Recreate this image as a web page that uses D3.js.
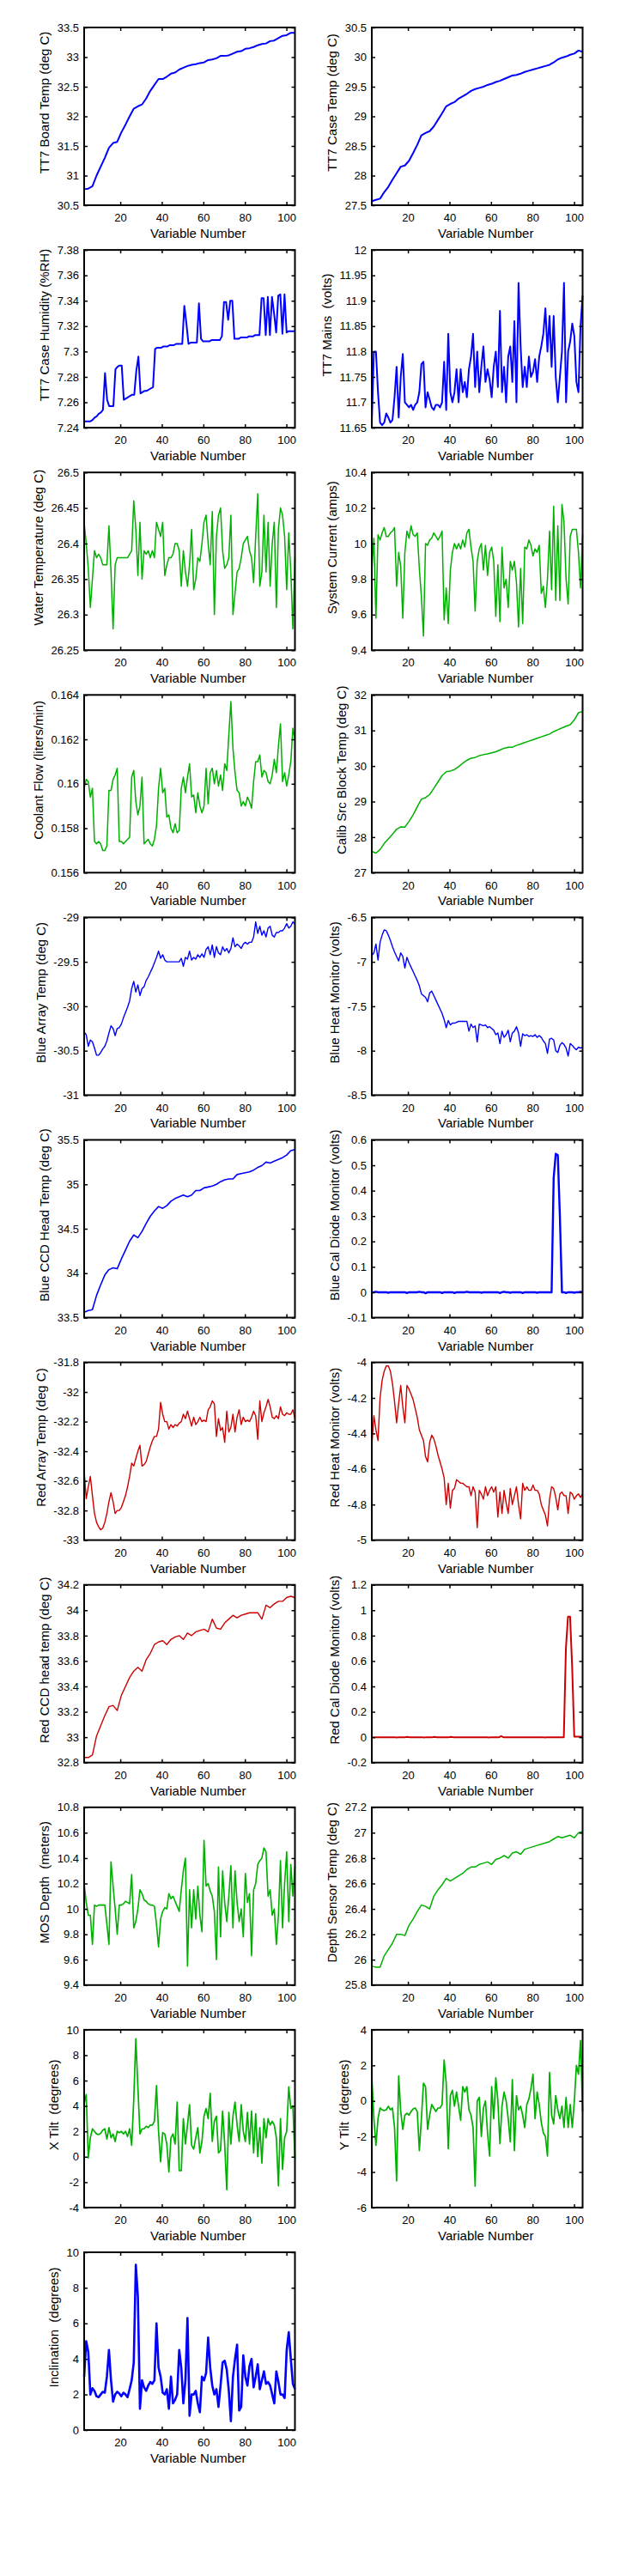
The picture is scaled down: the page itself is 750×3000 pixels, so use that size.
<!DOCTYPE html>
<html>
<head>
<meta charset="utf-8">
<script src="https://cdn.jsdelivr.net/npm/d3@7"></script>
<style>
  body { margin: 0; background: #fff; }
  text { font-family: "Liberation Sans", Arial, sans-serif; fill: #000; white-space: pre; }
</style>
</head>
<body>
<script>
// shared x axis (variable number)
var xLimits = [2.6, 104.1];
var xTicks = [20, 40, 60, 80, 100];

// ---- values, evenly spaced over xLimits ----
var boardTemp = [30.77,30.78,30.82,31.0,31.15,31.3,31.47,31.55,31.57,31.73,31.86,32.0,32.13,32.17,32.2,32.3,32.43,32.53,32.63,32.63,32.67,32.72,32.74,32.79,32.82,32.85,32.87,32.88,32.9,32.91,32.95,32.96,32.98,33.02,33.02,33.03,33.06,33.09,33.1,33.14,33.15,33.17,33.2,33.22,33.23,33.27,33.28,33.32,33.36,33.37,33.41,33.41];
var boardTempTicks = [30.5,31,31.5,32,32.5,33,33.5];

var caseTemp = [27.57,27.59,27.61,27.72,27.81,27.93,28.04,28.15,28.17,28.25,28.38,28.52,28.68,28.72,28.75,28.83,28.94,29.05,29.17,29.21,29.24,29.3,29.34,29.38,29.43,29.46,29.48,29.5,29.53,29.55,29.58,29.6,29.63,29.66,29.69,29.7,29.72,29.75,29.77,29.79,29.81,29.83,29.85,29.87,29.91,29.96,29.99,30.01,30.04,30.06,30.11,30.09];
var caseTempTicks = [27.5,28,28.5,29,29.5,30,30.5];

var caseHumidity = [7.245,7.245,7.245,7.245,7.246,7.248,7.249,7.251,7.252,7.254,7.283,7.262,7.257,7.257,7.257,7.286,7.288,7.289,7.289,7.262,7.263,7.264,7.265,7.266,7.266,7.285,7.296,7.267,7.268,7.269,7.269,7.270,7.271,7.272,7.302,7.303,7.303,7.303,7.304,7.304,7.304,7.305,7.305,7.305,7.306,7.306,7.306,7.306,7.336,7.322,7.306,7.307,7.307,7.307,7.307,7.338,7.31,7.308,7.308,7.308,7.308,7.309,7.309,7.309,7.309,7.309,7.312,7.339,7.339,7.325,7.34,7.34,7.31,7.31,7.31,7.311,7.311,7.311,7.311,7.312,7.312,7.312,7.313,7.313,7.313,7.342,7.342,7.313,7.343,7.313,7.343,7.33,7.315,7.344,7.345,7.314,7.345,7.315,7.316,7.316,7.316,7.316];
var caseHumidityTicks = [7.24,7.26,7.28,7.3,7.32,7.34,7.36,7.38];

var mainsVolts = [11.66,11.8,11.8,11.72,11.66,11.655,11.66,11.678,11.67,11.66,11.665,11.71,11.77,11.67,11.75,11.795,11.70,11.695,11.69,11.695,11.685,11.695,11.70,11.72,11.775,11.78,11.69,11.72,11.705,11.69,11.685,11.695,11.695,11.69,11.70,11.78,11.685,11.835,11.72,11.70,11.72,11.765,11.70,11.765,11.72,11.74,11.71,11.765,11.79,11.835,11.73,11.80,11.72,11.77,11.81,11.74,11.765,11.745,11.71,11.77,11.80,11.73,11.88,11.72,11.77,11.70,11.79,11.81,11.74,11.86,11.70,11.935,11.81,11.73,11.77,11.73,11.79,11.75,11.76,11.785,11.74,11.79,11.81,11.835,11.885,11.80,11.87,11.77,11.87,11.75,11.70,11.75,11.80,11.935,11.70,11.80,11.82,11.855,11.83,11.74,11.72,11.85,11.91];
var mainsTicks = [11.65,11.7,11.75,11.8,11.85,11.9,11.95,12];

var waterTemp = [26.43,26.40,26.365,26.31,26.35,26.39,26.38,26.385,26.38,26.37,26.37,26.37,26.425,26.36,26.28,26.37,26.38,26.38,26.38,26.38,26.38,26.38,26.385,26.39,26.46,26.42,26.355,26.43,26.35,26.39,26.385,26.39,26.38,26.39,26.38,26.43,26.42,26.41,26.43,26.355,26.37,26.38,26.38,26.385,26.40,26.40,26.39,26.34,26.39,26.36,26.34,26.37,26.42,26.335,26.35,26.38,26.375,26.40,26.43,26.44,26.40,26.37,26.445,26.30,26.41,26.44,26.45,26.39,26.365,26.37,26.38,26.44,26.30,26.33,26.36,26.365,26.38,26.40,26.405,26.41,26.39,26.38,26.345,26.41,26.47,26.34,26.36,26.44,26.36,26.43,26.34,26.40,26.43,26.31,26.42,26.45,26.44,26.41,26.335,26.415,26.36,26.28,26.38];
var waterTempTicks = [26.25,26.3,26.35,26.4,26.45,26.5];

var systemCurrent = [9.85,10.03,9.58,10.05,10.02,10.06,10.09,10.04,10.04,10.06,10.07,10.09,9.76,9.95,9.87,9.58,9.95,10.07,10.03,10.10,10.05,10.04,10.06,9.86,9.70,9.48,10.0,9.99,10.02,10.03,10.06,10.04,10.02,10.04,10.07,9.57,9.75,9.55,9.85,9.95,10.0,9.97,10.0,9.97,10.02,9.98,10.06,10.08,9.98,9.90,9.62,9.90,9.97,10.0,9.85,9.99,9.82,9.95,9.98,9.90,9.59,9.88,9.56,9.98,9.75,9.80,9.64,9.90,9.85,9.90,9.78,9.53,9.86,9.55,9.98,9.97,10.02,9.99,9.93,9.97,9.95,9.99,9.72,9.76,9.64,9.80,10.07,9.74,10.21,9.68,10.10,9.68,10.22,10.12,9.80,9.66,10.04,10.08,10.08,10.08,9.95,9.75,10.05];
var currentTicks = [9.4,9.6,9.8,10,10.2,10.4];

var coolantFlow = [0.1598,0.1602,0.1601,0.1594,0.1598,0.1574,0.1573,0.1574,0.1573,0.1570,0.1570,0.1572,0.1597,0.1597,0.1602,0.1604,0.1607,0.1574,0.1574,0.1573,0.1574,0.1575,0.1576,0.1603,0.1606,0.1592,0.1586,0.1590,0.1603,0.1573,0.1574,0.1575,0.1573,0.1572,0.1575,0.1581,0.1598,0.1607,0.1596,0.1598,0.1585,0.1586,0.1580,0.1578,0.1582,0.1578,0.1579,0.1598,0.1603,0.1596,0.1603,0.1609,0.1594,0.1595,0.1587,0.1596,0.1590,0.1587,0.1590,0.1607,0.1591,0.1605,0.1607,0.1600,0.1606,0.1599,0.1604,0.1597,0.1609,0.1606,0.1622,0.1637,0.1616,0.1605,0.1597,0.1596,0.1590,0.1592,0.1590,0.1594,0.1592,0.1589,0.1601,0.1610,0.1610,0.1613,0.1603,0.1606,0.1605,0.1601,0.1600,0.1604,0.1611,0.1605,0.1617,0.1627,0.1601,0.1605,0.1599,0.1604,0.1610,0.1625,0.1620];
var coolantTicks = [0.156,0.158,0.16,0.162,0.164];

var calibBlockTemp = [27.6,27.55,27.65,27.82,27.95,28.08,28.22,28.29,28.28,28.44,28.63,28.85,29.07,29.11,29.2,29.37,29.55,29.73,29.84,29.86,29.9,29.98,30.08,30.16,30.22,30.24,30.29,30.32,30.34,30.37,30.4,30.45,30.5,30.53,30.53,30.58,30.62,30.66,30.7,30.74,30.78,30.82,30.86,30.9,30.97,31.02,31.07,31.12,31.16,31.3,31.5,31.53];
var calibTicks = [27,28,29,30,31,32];

var blueArrayTemp = [-30.29,-30.32,-30.45,-30.38,-30.4,-30.47,-30.55,-30.55,-30.52,-30.48,-30.45,-30.39,-30.3,-30.22,-30.25,-30.33,-30.25,-30.24,-30.2,-30.13,-30.07,-30.01,-29.94,-29.8,-29.72,-29.84,-29.76,-29.88,-29.8,-29.78,-29.71,-29.67,-29.62,-29.57,-29.51,-29.45,-29.38,-29.46,-29.42,-29.48,-29.5,-29.5,-29.5,-29.5,-29.5,-29.5,-29.5,-29.46,-29.55,-29.45,-29.47,-29.38,-29.48,-29.45,-29.47,-29.42,-29.45,-29.41,-29.45,-29.36,-29.33,-29.42,-29.31,-29.45,-29.33,-29.4,-29.42,-29.33,-29.38,-29.35,-29.4,-29.35,-29.23,-29.33,-29.3,-29.32,-29.35,-29.3,-29.28,-29.3,-29.28,-29.28,-29.22,-29.05,-29.18,-29.1,-29.2,-29.15,-29.22,-29.12,-29.1,-29.2,-29.22,-29.17,-29.17,-29.15,-29.15,-29.12,-29.07,-29.12,-29.1,-29.05,-29.08];
var blueArrayTicks = [-31,-30.5,-30,-29.5,-29];

var blueHeatMon = [-6.93,-6.9,-6.8,-6.98,-6.78,-6.7,-6.64,-6.65,-6.7,-6.76,-6.83,-6.89,-6.94,-6.99,-6.9,-6.94,-7.07,-6.95,-7.01,-7.06,-7.11,-7.16,-7.21,-7.27,-7.36,-7.38,-7.4,-7.45,-7.35,-7.33,-7.38,-7.43,-7.48,-7.53,-7.58,-7.65,-7.74,-7.66,-7.71,-7.69,-7.69,-7.68,-7.67,-7.67,-7.67,-7.67,-7.67,-7.78,-7.7,-7.74,-7.72,-7.9,-7.7,-7.71,-7.72,-7.71,-7.74,-7.73,-7.75,-7.77,-7.82,-7.8,-7.92,-7.78,-7.85,-7.82,-7.77,-7.9,-7.8,-7.78,-7.73,-7.8,-7.95,-7.81,-7.83,-7.82,-7.84,-7.83,-7.84,-7.82,-7.85,-7.83,-7.85,-7.89,-7.92,-8.03,-7.87,-7.86,-7.88,-8.0,-8.02,-7.94,-7.91,-7.93,-7.97,-8.06,-7.92,-7.94,-7.97,-7.99,-7.96,-7.97,-7.96];
var blueHeatTicks = [-8.5,-8,-7.5,-7,-6.5];

var blueCcdTemp = [33.56,33.58,33.59,33.75,33.87,33.98,34.04,34.06,34.05,34.16,34.26,34.36,34.43,34.4,34.47,34.56,34.64,34.7,34.75,34.73,34.76,34.81,34.84,34.86,34.88,34.86,34.88,34.93,34.93,34.96,34.97,34.98,35.0,35.03,35.05,35.06,35.06,35.11,35.12,35.13,35.14,35.16,35.19,35.21,35.25,35.24,35.26,35.28,35.3,35.33,35.38,35.39];
var blueCcdTicks = [33.5,34,34.5,35,35.5];

var blueCalDiode = [0,0,0.002,0,0,0,0,0,-0.002,0,0,0,0,0,0,0,0,-0.003,0,0,0,0,0,0.002,0,0,-0.004,0,0,0,0,0,0,0,-0.003,0,0,0,0,0,-0.003,0,0,0,0,0,0.002,0,0,0,0,0,0,-0.002,0,0,0,0,0,0,0,0,-0.003,0,0.002,0,0,-0.002,0,0,0,0,0,-0.003,0,0,0,0,0,0,-0.002,0,0,0,0,0,0,0,0.45,0.545,0.54,0.3,0,0,-0.003,0,0,0,-0.002,0,0,0.002,0];
var blueCalTicks = [-0.1,0,0.1,0.2,0.3,0.4,0.5,0.6];

var redArrayTemp = [-32.53,-32.72,-32.64,-32.57,-32.7,-32.82,-32.88,-32.91,-32.93,-32.92,-32.88,-32.82,-32.74,-32.68,-32.74,-32.82,-32.8,-32.8,-32.78,-32.74,-32.7,-32.64,-32.57,-32.48,-32.5,-32.45,-32.4,-32.36,-32.5,-32.49,-32.47,-32.42,-32.37,-32.33,-32.3,-32.3,-32.25,-32.07,-32.15,-32.2,-32.2,-32.25,-32.22,-32.24,-32.22,-32.23,-32.21,-32.2,-32.15,-32.18,-32.13,-32.18,-32.23,-32.17,-32.22,-32.2,-32.17,-32.2,-32.19,-32.2,-32.12,-32.1,-32.06,-32.08,-32.3,-32.18,-32.26,-32.24,-32.34,-32.13,-32.27,-32.24,-32.15,-32.27,-32.17,-32.12,-32.22,-32.17,-32.2,-32.19,-32.2,-32.17,-32.13,-32.16,-32.32,-32.06,-32.2,-32.14,-32.1,-32.05,-32.1,-32.17,-32.18,-32.16,-32.18,-32.1,-32.15,-32.16,-32.14,-32.15,-32.15,-32.12,-32.18];
var redArrayTicks = [-33,-32.8,-32.6,-32.4,-32.2,-32,-31.8];

var redHeatMon = [-4.47,-4.3,-4.38,-4.44,-4.2,-4.1,-4.05,-4.02,-4.02,-4.05,-4.12,-4.22,-4.34,-4.23,-4.13,-4.25,-4.34,-4.13,-4.15,-4.18,-4.21,-4.26,-4.31,-4.38,-4.41,-4.44,-4.53,-4.56,-4.45,-4.41,-4.43,-4.47,-4.52,-4.56,-4.6,-4.65,-4.8,-4.68,-4.82,-4.72,-4.71,-4.66,-4.67,-4.68,-4.68,-4.69,-4.7,-4.7,-4.75,-4.7,-4.73,-4.93,-4.72,-4.74,-4.77,-4.7,-4.75,-4.72,-4.7,-4.73,-4.7,-4.87,-4.73,-4.85,-4.72,-4.79,-4.85,-4.71,-4.8,-4.75,-4.7,-4.8,-4.88,-4.68,-4.72,-4.7,-4.72,-4.72,-4.69,-4.72,-4.72,-4.74,-4.8,-4.83,-4.86,-4.92,-4.77,-4.7,-4.71,-4.76,-4.83,-4.74,-4.73,-4.75,-4.75,-4.85,-4.73,-4.74,-4.77,-4.75,-4.74,-4.76,-4.74];
var redHeatTicks = [-5,-4.8,-4.6,-4.4,-4.2,-4];

var redCcdTemp = [32.84,32.84,32.86,33.01,33.09,33.17,33.24,33.25,33.21,33.33,33.4,33.47,33.52,33.55,33.52,33.61,33.66,33.73,33.75,33.76,33.73,33.77,33.79,33.8,33.77,33.82,33.8,33.83,33.84,33.85,33.83,33.93,33.86,33.85,33.9,33.93,33.96,33.94,33.96,33.97,33.98,33.98,33.98,33.93,34.04,34.02,34.05,34.07,34.07,34.1,34.11,34.1];
var redCcdTicks = [32.8,33,33.2,33.4,33.6,33.8,34,34.2];

var redCalDiode = [0,-0.003,0,0,0,0,0,0,0,0,0,0,-0.003,0,0,0,0,0.002,0,0,0,0,0,0,0,-0.003,0,0,0,0,0.002,0,0,0,0,0,0,0,0.002,0,0,0,0,0,0,0,0,0,0,0,0,0,0,0,0,0,-0.003,0,0,0,0,0,0.008,0,0,0,0,0,0,0,0,0,0,0,0,0,0,0,0,0,0,0,0,-0.003,0,0,0,0,0,0,0,0,0,0.7,0.95,0.95,0.55,0.005,0.005,0.005,0.005,0.005];
var redCalTicks = [-0.2,0,0.2,0.4,0.6,0.8,1,1.2];

var mosDepth = [10.2,10.05,9.95,9.95,9.72,10.03,10.02,10.03,10.03,10.03,10.03,9.88,9.72,10.37,10.18,10.0,9.8,10.03,10.03,10.04,10.06,10.05,10.04,10.27,9.85,9.9,10.0,10.15,10.12,10.07,10.06,10.04,10.03,10.03,10.02,9.88,9.7,9.92,9.98,10.01,10.0,10.12,10.08,10.1,10.06,10.02,9.98,10.15,10.3,10.4,9.55,10.15,9.85,10.15,9.92,10.18,9.95,9.82,10.54,10.18,10.2,10.14,10.1,9.98,9.6,10.33,9.78,10.3,10.05,9.9,10.1,10.34,9.85,10.3,10.05,9.9,10.0,9.78,10.28,10.05,10.12,9.63,10.15,10.2,10.35,10.38,10.4,10.48,10.45,10.1,10.15,9.95,10.0,9.72,9.95,10.38,9.85,10.2,10.45,9.9,10.35,10.1,10.33];
var mosTicks = [9.4,9.6,9.8,10,10.2,10.4,10.6,10.8];

var depthSensorTemp = [25.95,25.94,25.94,26.03,26.08,26.13,26.2,26.2,26.19,26.27,26.32,26.38,26.43,26.42,26.4,26.5,26.55,26.59,26.64,26.62,26.64,26.66,26.68,26.71,26.73,26.73,26.75,26.76,26.77,26.75,26.79,26.8,26.82,26.8,26.84,26.85,26.83,26.87,26.88,26.89,26.9,26.91,26.92,26.93,26.95,26.97,26.96,26.97,26.98,26.96,27.0,27.01];
var depthTempTicks = [25.8,26,26.2,26.4,26.6,26.8,27,27.2];

var xTilt = [4.2,4.9,-0.1,1.5,2.2,2.0,1.8,1.75,1.85,2.1,2.2,1.4,2.3,1.5,1.8,1.2,2.0,1.9,2.0,1.8,2.0,1.6,2.2,0.9,4.5,9.3,5.5,1.8,2.2,2.2,2.4,2.3,2.5,2.5,2.8,5.6,2.0,-0.4,1.9,1.8,1.0,-1.2,1.5,1.8,1.0,4.3,-1.1,-1.1,3.0,1.0,2.5,4.1,0.9,0.6,1.5,2.3,0.3,1.2,3.2,3.8,3.0,5.0,1.2,2.8,3.2,0.3,0.5,3.6,1.0,-2.6,3.5,1.0,3.2,4.3,2.5,1.2,4.1,2.0,1.2,3.5,1.0,3.6,0.3,3.4,0.0,2.3,-0.5,3.0,1.5,3.0,2.5,2.8,2.5,1.5,-2.3,3.0,-1.0,1.5,2.0,5.5,3.8,4.0,-0.2];
var xTiltTicks = [-4,-2,0,2,4,6,8,10];

var yTilt = [1.4,-1.0,-2.5,-1.0,-0.4,-0.5,-0.55,-0.5,-0.3,-0.5,-0.4,-1.5,-4.5,1.4,-0.6,-1.6,-0.8,-0.7,-0.8,-0.6,-0.45,-0.4,-0.6,-2.8,-1.0,1.0,0.8,-1.6,-0.8,-0.2,-0.4,-0.6,-0.4,-0.4,-0.2,2.3,1.0,-2.7,0.3,0.6,-0.3,0.5,-0.3,-1.1,0.8,0.5,0.8,-0.5,-0.8,-1.5,-4.8,0.0,0.2,-2.0,-0.4,0.0,-1.8,-3.1,0.8,-1.0,1.3,0.0,-2.4,-0.3,0.5,0.0,-1.0,-2.3,1.2,-2.8,0.3,-0.5,-0.3,-0.8,-1.5,-0.2,0.1,0.7,1.5,-1.0,0.5,-0.2,-1.2,-1.8,-2.0,-3.1,1.6,-0.8,-1.3,0.3,-0.5,-1.0,-0.3,-1.5,0.2,-1.5,-0.2,-1.5,0.0,2.0,1.5,3.4,-0.6];
var yTiltTicks = [-6,-4,-2,0,2,4];

var inclination = [3.0,5.0,4.4,2.0,2.35,2.2,1.9,1.85,2.0,2.15,2.1,3.0,4.5,2.8,1.6,2.0,2.15,2.05,1.9,2.1,2.0,1.85,2.3,2.8,3.8,9.3,7.5,1.2,2.8,2.4,2.2,2.5,2.7,2.6,2.8,6.0,3.5,3.0,2.1,2.0,2.3,1.2,3.0,1.5,1.7,2.0,4.5,3.5,1.5,2.8,6.3,0.8,2.0,2.0,2.2,1.5,1.0,3.0,2.8,3.2,5.2,3.5,2.5,2.0,2.3,1.3,2.5,3.8,3.9,3.4,2.2,0.5,3.0,4.0,4.8,1.1,1.3,4.2,3.0,2.5,3.6,4.0,2.4,3.0,3.7,2.3,2.8,3.3,2.6,2.7,2.5,2.0,1.5,3.3,2.7,2.0,2.0,1.8,4.5,5.5,4.0,2.6,2.3];
var inclinationTicks = [0,2,4,6,8,10];

var blue = "#0000ff", green = "#00b000", red = "#cc0000";

// panels in reading order: left, right, left, right ...
var panels = [
  {label: "TT7 Board Temp (deg C)", values: boardTemp, ticks: boardTempTicks, color: blue, lw: 2},
  {label: "TT7 Case Temp (deg C)", values: caseTemp, ticks: caseTempTicks, color: blue, lw: 2},
  {label: "TT7 Case Humidity (%RH)", values: caseHumidity, ticks: caseHumidityTicks, color: blue, lw: 2},
  {label: "TT7 Mains  (volts)", values: mainsVolts, ticks: mainsTicks, color: blue, lw: 2},
  {label: "Water Temperature (deg C)", values: waterTemp, ticks: waterTempTicks, color: green, lw: 1.5},
  {label: "System Current (amps)", values: systemCurrent, ticks: currentTicks, color: green, lw: 1.5},
  {label: "Coolant Flow (liters/min)", values: coolantFlow, ticks: coolantTicks, color: green, lw: 1.5},
  {label: "Calib Src Block Temp (deg C)", values: calibBlockTemp, ticks: calibTicks, color: green, lw: 1.5},
  {label: "Blue Array Temp (deg C)", values: blueArrayTemp, ticks: blueArrayTicks, color: blue, lw: 1.4},
  {label: "Blue Heat Monitor (volts)", values: blueHeatMon, ticks: blueHeatTicks, color: blue, lw: 1.4},
  {label: "Blue CCD Head Temp (deg C)", values: blueCcdTemp, ticks: blueCcdTicks, color: blue, lw: 1.6},
  {label: "Blue Cal Diode Monitor (volts)", values: blueCalDiode, ticks: blueCalTicks, color: blue, lw: 2.4},
  {label: "Red Array Temp (deg C)", values: redArrayTemp, ticks: redArrayTicks, color: red, lw: 1.4},
  {label: "Red Heat Monitor (volts)", values: redHeatMon, ticks: redHeatTicks, color: red, lw: 1.4},
  {label: "Red CCD head temp (deg C)", values: redCcdTemp, ticks: redCcdTicks, color: red, lw: 1.4},
  {label: "Red Cal Diode Monitor (volts)", values: redCalDiode, ticks: redCalTicks, color: red, lw: 2},
  {label: "MOS Depth  (meters)", values: mosDepth, ticks: mosTicks, color: green, lw: 1.6},
  {label: "Depth Sensor Temp (deg C)", values: depthSensorTemp, ticks: depthTempTicks, color: green, lw: 1.5},
  {label: "X Tilt  (degrees)", values: xTilt, ticks: xTiltTicks, color: green, lw: 1.7},
  {label: "Y Tilt  (degrees)", values: yTilt, ticks: yTiltTicks, color: green, lw: 1.7},
  {label: "Inclination  (degrees)", values: inclination, ticks: inclinationTicks, color: blue, lw: 2.6}
];

// layout
var colX = [98, 433], plotW = 245.5, plotH = 207, rowTop = 32, rowStep = 259.1;
var fontFam = "Liberation Sans, Arial, sans-serif";

var svg = d3.select("body").append("svg")
    .attr("width", 750)
    .attr("height", 3000);

var fmt = function(d) { return String(+d.toFixed(6)); };

panels.forEach(function(p, i) {
  var col = i % 2, row = Math.floor(i / 2);
  var g = svg.append("g")
      .attr("transform", "translate(" + colX[col] + "," + (rowTop + row * rowStep) + ")");

  var x = d3.scaleLinear().domain(xLimits).range([0, plotW]);
  var y = d3.scaleLinear()
      .domain([p.ticks[0], p.ticks[p.ticks.length - 1]])
      .range([plotH, 0]);

  var step = (xLimits[1] - xLimits[0]) / (p.values.length - 1);
  var line = d3.line()
      .x(function(d, k) { return x(xLimits[0] + k * step); })
      .y(function(d) { return y(d); });

  g.append("path")
      .datum(p.values)
      .attr("d", line)
      .attr("fill", "none")
      .attr("stroke", p.color)
      .attr("stroke-width", p.lw)
      .attr("stroke-linejoin", "round");

  // axes, ticks pointing inward on all four sides
  var bottom = g.append("g").attr("transform", "translate(0," + plotH + ")")
      .call(d3.axisBottom(x).tickValues(xTicks).tickSizeInner(-4).tickSizeOuter(0).tickPadding(10));
  var left = g.append("g")
      .call(d3.axisLeft(y).tickValues(p.ticks).tickFormat(fmt).tickSizeInner(-4).tickSizeOuter(0).tickPadding(6));
  var top = g.append("g")
      .call(d3.axisTop(x).tickValues(xTicks).tickFormat("").tickSizeInner(-4).tickSizeOuter(0));
  var right = g.append("g").attr("transform", "translate(" + plotW + ",0)")
      .call(d3.axisRight(y).tickValues(p.ticks).tickFormat("").tickSizeInner(-4).tickSizeOuter(0));

  [bottom, left, top, right].forEach(function(a) {
    a.select(".domain").remove();
    a.attr("font-size", 13).attr("font-family", fontFam);
    a.selectAll(".tick line").attr("stroke", "#000").attr("stroke-width", 1.5);
    a.selectAll(".tick text").attr("fill", "#000");
  });

  g.append("rect")
      .attr("width", plotW)
      .attr("height", plotH)
      .attr("fill", "none")
      .attr("stroke", "#000")
      .attr("stroke-width", 2);

  // y label sits left of the widest tick label
  var maxW = d3.max(left.selectAll(".tick text").nodes(), function(n) { return n.getBBox().width; });
  var cx = -6 - maxW - 15;
  g.append("text")
      .attr("transform", "translate(" + cx + "," + (plotH / 2 - 16) + ") rotate(-90)")
      .attr("text-anchor", "middle")
      .attr("dy", "0.35em")
      .attr("font-size", 15)
      .text(p.label);

  g.append("text")
      .attr("x", plotW / 2 + 10)
      .attr("y", plotH + 38)
      .attr("text-anchor", "middle")
      .attr("font-size", 15)
      .text("Variable Number");
});
</script>
</body>
</html>
